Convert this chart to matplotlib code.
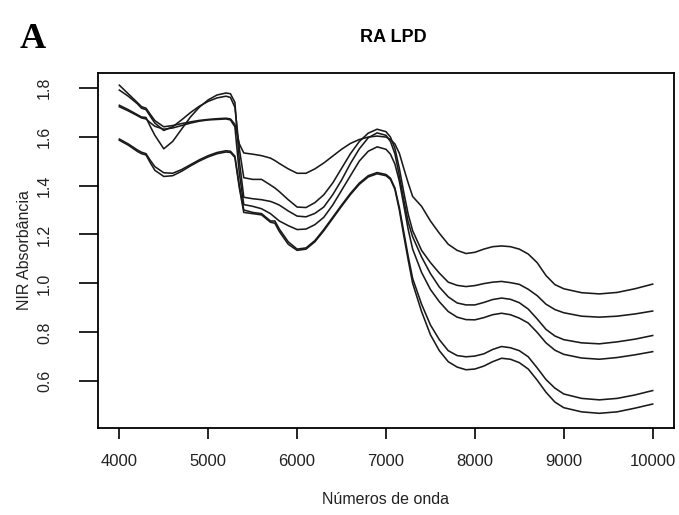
import matplotlib
matplotlib.use("Agg")
import matplotlib.pyplot as plt

# wavenumbers (cm-1) at which the spectra were read
wn = [4000, 4100, 4200, 4250, 4300, 4350, 4400, 4500, 4600, 4700, 4800, 4900,
      5000, 5100, 5200, 5250, 5300, 5350, 5400, 5500, 5600, 5700, 5750, 5800,
      5900, 6000, 6100, 6200, 6300, 6400, 6500, 6600, 6700, 6800, 6900, 7000,
      7050, 7100, 7150, 7200, 7250, 7300, 7400, 7500, 7600, 7700, 7800, 7900,
      8000, 8100, 8200, 8300, 8400, 8500, 8600, 8700, 8800, 8900, 9000, 9200,
      9400, 9600, 9800, 10000]

spec_a = [1.810, 1.775, 1.740, 1.722, 1.716, 1.690, 1.665, 1.640, 1.645, 1.653, 1.660, 1.666,
          1.670, 1.673, 1.675, 1.672, 1.650, 1.570, 1.533, 1.528, 1.522, 1.512, 1.502, 1.490,
          1.468, 1.450, 1.450, 1.468, 1.492, 1.520, 1.548, 1.572, 1.588, 1.598, 1.602, 1.598,
          1.588, 1.570, 1.532, 1.470, 1.410, 1.355, 1.315, 1.255, 1.205, 1.160, 1.135, 1.122,
          1.127, 1.140, 1.150, 1.153, 1.150, 1.140, 1.120, 1.085, 1.032, 0.995, 0.978, 0.962,
          0.957, 0.963, 0.978, 0.997]

spec_b = [1.790, 1.765, 1.735, 1.716, 1.710, 1.682, 1.655, 1.625, 1.640, 1.668, 1.698, 1.724,
          1.744, 1.758, 1.765, 1.760, 1.720, 1.550, 1.432, 1.425, 1.425, 1.402, 1.390, 1.375,
          1.342, 1.312, 1.310, 1.330, 1.362, 1.410, 1.470, 1.530, 1.580, 1.614, 1.630, 1.620,
          1.598, 1.552, 1.470, 1.372, 1.282, 1.215, 1.135, 1.085, 1.042, 1.005, 0.992, 0.987,
          0.991, 0.999, 1.005, 1.008, 1.003, 0.996, 0.976, 0.950, 0.915, 0.893, 0.880, 0.866,
          0.862, 0.866, 0.875, 0.887]

spec_c = [1.728, 1.710, 1.690, 1.680, 1.678, 1.640, 1.605, 1.550, 1.580, 1.630, 1.680, 1.720,
          1.750, 1.770, 1.778, 1.775, 1.740, 1.500, 1.352, 1.346, 1.342, 1.335, 1.328, 1.320,
          1.296, 1.275, 1.272, 1.286, 1.312, 1.362, 1.422, 1.490, 1.550, 1.595, 1.615, 1.605,
          1.580, 1.530, 1.440, 1.340, 1.250, 1.190, 1.108, 1.040, 0.985, 0.945, 0.920, 0.912,
          0.912, 0.922, 0.934, 0.940, 0.935, 0.921, 0.895, 0.855, 0.812, 0.785, 0.770, 0.757,
          0.753, 0.761, 0.772, 0.787]

spec_d = [1.722, 1.705, 1.686, 1.676, 1.672, 1.656, 1.642, 1.630, 1.635, 1.645, 1.655, 1.663,
          1.668, 1.670, 1.672, 1.668, 1.640, 1.450, 1.322, 1.315, 1.305, 1.285, 1.270, 1.255,
          1.236, 1.220, 1.222, 1.240, 1.270, 1.320, 1.380, 1.440, 1.500, 1.540, 1.558, 1.548,
          1.528, 1.488, 1.418, 1.320, 1.220, 1.140, 1.045, 0.975, 0.925, 0.885, 0.862, 0.852,
          0.851, 0.860, 0.872, 0.878, 0.872, 0.858, 0.838, 0.800, 0.757, 0.727, 0.710, 0.695,
          0.690, 0.697, 0.708, 0.721]

spec_e = [1.590, 1.570, 1.546, 1.536, 1.530, 1.502, 1.477, 1.452, 1.450, 1.465, 1.485, 1.505,
          1.522, 1.535, 1.542, 1.540, 1.520, 1.400, 1.300, 1.290, 1.285, 1.255, 1.255, 1.222,
          1.170, 1.140, 1.145, 1.175, 1.220, 1.270, 1.320, 1.368, 1.410, 1.440, 1.453, 1.445,
          1.430, 1.390, 1.310, 1.210, 1.110, 1.020, 0.915, 0.830, 0.770, 0.725, 0.705, 0.700,
          0.703, 0.712, 0.730, 0.742, 0.737, 0.725, 0.700, 0.655, 0.607, 0.572, 0.548, 0.530,
          0.524, 0.530, 0.544, 0.562]

spec_f = [1.585, 1.565, 1.540, 1.530, 1.525, 1.492, 1.462, 1.437, 1.440, 1.458, 1.480, 1.500,
          1.517, 1.530, 1.537, 1.535, 1.515, 1.390, 1.290, 1.285, 1.280, 1.250, 1.246, 1.212,
          1.160, 1.135, 1.140, 1.170, 1.215, 1.265, 1.315, 1.363, 1.405, 1.435, 1.448, 1.440,
          1.425, 1.385, 1.300, 1.195, 1.095, 1.000, 0.885, 0.790, 0.725, 0.680, 0.658, 0.647,
          0.650, 0.662, 0.680, 0.694, 0.690, 0.676, 0.650, 0.605, 0.555, 0.515, 0.492, 0.475,
          0.469, 0.475, 0.490, 0.507]

spectra = [spec_a, spec_b, spec_c, spec_d, spec_e, spec_f]

x_ticks = [4000, 5000, 6000, 7000, 8000, 9000, 10000]
y_ticks = [0.6, 0.8, 1.0, 1.2, 1.4, 1.6, 1.8]

plt.rcParams["font.family"] = ["Liberation Sans", "DejaVu Sans"]

fig = plt.figure(figsize=(6.79, 5.15), dpi=100)
ax = fig.add_axes([98 / 679, 87 / 515, 576 / 679, 355.3 / 515])

for s in spectra:
    ax.plot(wn, s, color="#1a1a1a", linewidth=1.15)

ax.set_xlim(3760, 10240)
ax.set_ylim(0.409, 1.861)
ax.set_xticks(x_ticks)
ax.set_xticklabels([str(t) for t in x_ticks], fontsize=12, color="#222222")
ax.set_yticks(y_ticks)
ax.set_yticklabels([f"{t:.1f}" for t in y_ticks], fontsize=11.5, color="#222222",
                   rotation=90, va="center")
ax.tick_params(axis="x", direction="out", length=8, width=1.2, pad=11)
ax.tick_params(axis="y", direction="out", length=14, width=1.2, pad=19)
for sp in ax.spines.values():
    sp.set_linewidth(1.3)

ax.set_xlabel("Números de onda", fontsize=11.5, color="#222222", labelpad=16)
ax.set_ylabel("NIR Absorbância", fontsize=11.5, color="#222222", labelpad=4)

fig.text(393 / 679, 1 - 37 / 515, "RA LPD", fontsize=13, fontweight="bold",
         ha="center", va="center")
fig.text(33 / 679, 1 - 39 / 515, "A", fontsize=26, fontweight="bold",
         family=["Liberation Serif", "DejaVu Serif"], ha="center", va="center")

fig.savefig("out.png", dpi=100)
